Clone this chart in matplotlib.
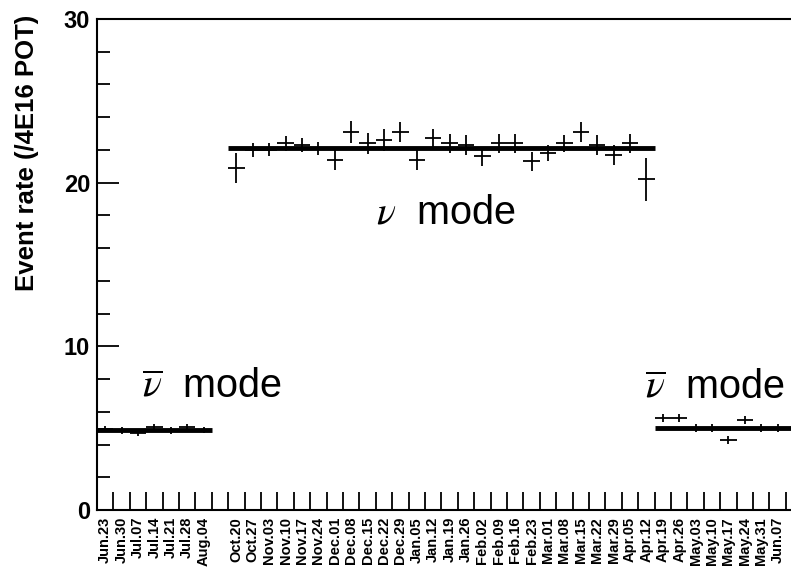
# -*- coding: utf-8 -*-
## 週ごとのイベントレート (ν / ν̄ モード)
from matplotlib import pyplot as plt
from matplotlib.ticker import MultipleLocator
import numpy as np

plt.rcParams['mathtext.fontset'] = 'stix'

## 週のラベル (Aug.04 と Oct.20 の間は空きビン)
weeks = ["Jun.23", "Jun.30", "Jul.07", "Jul.14", "Jul.21", "Jul.28", "Aug.04", "",
         "Oct.20", "Oct.27", "Nov.03", "Nov.10", "Nov.17", "Nov.24",
         "Dec.01", "Dec.08", "Dec.15", "Dec.22", "Dec.29",
         "Jan.05", "Jan.12", "Jan.19", "Jan.26",
         "Feb.02", "Feb.09", "Feb.16", "Feb.23",
         "Mar.01", "Mar.08", "Mar.15", "Mar.22", "Mar.29",
         "Apr.05", "Apr.12", "Apr.19", "Apr.26",
         "May.03", "May.10", "May.17", "May.24", "May.31", "Jun.07"]

## 反ニュートリノモード (前半)
anu1_bins = list(range(0, 7))
anu1_rate = [4.95, 4.85, 4.7, 5.05, 4.85, 5.05, 4.9]
anu1_err = [0.2, 0.2, 0.2, 0.2, 0.2, 0.2, 0.2]
anu1_fit = 4.9

## ニュートリノモード
nu_bins = list(range(8, 34))
nu_rate = [20.9, 22.0, 22.0, 22.4, 22.3, 22.1, 21.4, 23.1, 22.4, 22.6, 23.1,
           21.4, 22.7, 22.4, 22.3, 21.6, 22.4, 22.4, 21.3, 21.8, 22.4, 23.1,
           22.3, 21.7, 22.4, 20.2]
nu_err = [0.9, 0.45, 0.4, 0.45, 0.4, 0.4, 0.6, 0.65, 0.65, 0.65, 0.6,
          0.6, 0.6, 0.6, 0.6, 0.6, 0.6, 0.6, 0.6, 0.5, 0.5, 0.6,
          0.6, 0.6, 0.6, 1.3]
nu_fit = 22.1

## 反ニュートリノモード (後半)
anu2_bins = list(range(34, 42))
anu2_rate = [5.6, 5.6, 5.0, 5.0, 4.3, 5.5, 5.0, 5.0]
anu2_err = [0.25, 0.25, 0.25, 0.25, 0.25, 0.25, 0.25, 0.25]
anu2_fit = 5.0

fig = plt.figure(figsize=(7.91, 5.72), dpi=100)
ax = fig.add_axes([97 / 791, 62 / 572, 738 / 791, 491 / 572])
ax.set_xlim(0, 45)
ax.set_ylim(0, 30)

for bins, rate, err in [(anu1_bins, anu1_rate, anu1_err),
                        (nu_bins, nu_rate, nu_err),
                        (anu2_bins, anu2_rate, anu2_err)]:
    x = np.array(bins) + 0.5
    ax.errorbar(x, rate, xerr=0.5, yerr=err, fmt='none', ecolor='black',
                elinewidth=1.3, capsize=0)

## フィット結果 (定数)
ax.hlines(anu1_fit, 0, 7, colors='black', linewidth=3.5)
ax.hlines(nu_fit, 8, 34, colors='black', linewidth=3.5)
ax.hlines(anu2_fit, 34, 45, colors='black', linewidth=3.5)

txt = dict(fontsize=28.5, family='Liberation Sans', va='baseline', ha='left')
ax.text(2.75, 6.9, r'$\overline{\nu}$  mode', **txt)
ax.text(17.0, 17.5, r'$\nu$  mode', **txt)
ax.text(33.4, 6.83, r'$\overline{\nu}$  mode', **txt)

## 軸: ビンの境界に目盛り, ラベルはビン中心
ax.set_xticks(np.arange(0, 46))
ax.set_xticklabels([])
ax.set_xticks(np.arange(len(weeks)) + 0.5, minor=True)
ax.set_xticklabels(weeks, minor=True, rotation=90, fontsize=10.5,
                   fontweight='bold', family='Liberation Sans')
ax.tick_params(axis='x', which='major', direction='in', length=13, width=1.3)
ax.tick_params(axis='x', which='minor', length=0, pad=5)

ax.yaxis.set_major_locator(MultipleLocator(10))
ax.yaxis.set_minor_locator(MultipleLocator(2))
ax.tick_params(axis='y', which='major', direction='in', length=16, width=1.3,
               labelsize=17, pad=5)
ax.tick_params(axis='y', which='minor', direction='in', length=9.5, width=1.3)
for lab in ax.get_yticklabels():
    lab.set_fontweight('bold')
    lab.set_family('Liberation Sans')

for s in ax.spines.values():
    s.set_linewidth(1.5)

fig.text(27 / 791, 1 - 15 / 572, "Event rate (/4E16 POT)", rotation=90,
         ha='center', va='top', fontsize=18.5, fontweight='bold',
         family='Liberation Sans')

plt.savefig("out.png", dpi=100)
